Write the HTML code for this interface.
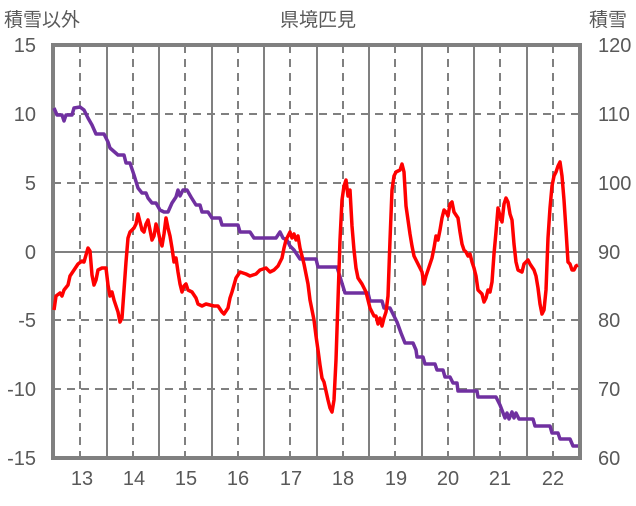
<!DOCTYPE html>
<html><head><meta charset="utf-8"><style>
body{margin:0;background:#fff}
svg text{font-family:"Liberation Sans","Noto Sans CJK JP",sans-serif;fill:#595959}
</style></head><body>
<svg width="636" height="501" viewBox="0 0 636 501" xmlns="http://www.w3.org/2000/svg">
<rect width="636" height="501" fill="#fff"/>
<g stroke="#808080" stroke-width="2" fill="none">
<g stroke-dasharray="8,6">
<line x1="80" y1="45" x2="80" y2="458"/><line x1="133" y1="45" x2="133" y2="458"/><line x1="185" y1="45" x2="185" y2="458"/><line x1="238" y1="45" x2="238" y2="458"/><line x1="290" y1="45" x2="290" y2="458"/><line x1="343" y1="45" x2="343" y2="458"/><line x1="395" y1="45" x2="395" y2="458"/><line x1="448" y1="45" x2="448" y2="458"/><line x1="500" y1="45" x2="500" y2="458"/><line x1="553" y1="45" x2="553" y2="458"/>
<line x1="53" y1="114" x2="580" y2="114"/><line x1="53" y1="183" x2="580" y2="183"/><line x1="53" y1="320" x2="580" y2="320"/><line x1="53" y1="389" x2="580" y2="389"/>
</g>
<line x1="107" y1="45" x2="107" y2="458"/><line x1="159" y1="45" x2="159" y2="458"/><line x1="212" y1="45" x2="212" y2="458"/><line x1="264" y1="45" x2="264" y2="458"/><line x1="317" y1="45" x2="317" y2="458"/><line x1="369" y1="45" x2="369" y2="458"/><line x1="422" y1="45" x2="422" y2="458"/><line x1="474" y1="45" x2="474" y2="458"/><line x1="527" y1="45" x2="527" y2="458"/>
<line x1="53" y1="252" x2="580" y2="252"/>
<rect x="53" y="45" width="527" height="413" stroke-width="4"/>
</g>
<polyline fill="none" stroke="#7030a0" stroke-width="3.5" stroke-linejoin="round" points="54,108 57,115 62,115 64,121 66,115 72,115 74,108 80,107 84,110 88,118 92,125 96,134 104,134 108,142 110,148 118,155 124,155 126,163 130,163 134,175 138,188 142,193 146,193 148,198 152,203 156,203 160,210 164,212 168,212 172,203 176,197 178,190 180,196 183,190 187,190 191,197 196,205 200,205 202,212 208,212 212,218 220,218 222,225 238,225 240,232 250,232 254,238 276,238 280,232 283,238 287,240 290,246 294,250 300,259 316,259 318,267 337,267 341,280 345,293 368,293 370,301 382,301 384,308 390,308 397,322 401,333 405,343 413,343 416,350 417,357 423,357 425,364 435,364 437,370 443,370 445,377 450,377 453,383 457,383 458,391 477,391 478,397 496,397 500,405 505,418 507,413 509,419 512,412 514,418 516,413 519,419 533,419 535,426 550,426 552,433 558,433 560,439 570,439 573,446 578,446"/>
<polyline fill="none" stroke="#ff0000" stroke-width="3.5" stroke-linejoin="round" points="54,310 56,296 60,293 62,296 64,290 68,285 70,276 74,270 78,264 82,261 84,262 86,255 88,248 90,251 92,275 94,285 96,280 98,270 102,268 106,268 108,285 110,296 112,292 114,300 118,312 120,322 122,318 124,290 126,262 128,238 130,232 134,228 136,224 138,214 140,222 142,230 144,232 146,224 148,220 150,230 152,240 154,236 156,224 158,230 160,240 162,246 164,234 166,218 168,228 170,236 172,248 174,262 176,258 178,272 180,284 182,292 184,286 186,284 188,290 192,292 196,298 198,304 202,306 206,304 210,305 214,306 218,306 222,312 224,314 228,308 230,298 232,292 234,285 236,278 240,272 246,274 250,276 256,274 260,270 266,268 270,272 274,270 278,266 282,258 284,248 286,240 288,236 290,232 292,238 294,234 296,240 298,236 300,248 304,264 308,284 310,300 314,320 316,336 318,350 320,365 322,378 324,382 328,400 330,408 332,412 334,400 336,360 338,300 340,240 342,200 344,186 346,180 348,196 350,190 352,226 354,250 356,268 358,278 362,284 366,292 370,308 374,316 376,316 378,324 380,318 382,326 384,318 386,312 388,296 390,240 392,190 394,176 396,172 400,170 402,164 404,172 406,206 408,220 410,234 412,246 414,256 418,264 422,272 424,284 426,276 428,270 430,264 432,258 434,248 436,236 438,240 440,230 442,218 444,210 446,212 448,216 450,204 452,202 454,212 458,218 460,232 462,244 464,250 466,252 468,256 470,254 472,262 474,268 476,276 478,290 480,292 482,294 484,302 486,298 488,290 490,292 492,282 494,254 496,232 498,208 500,216 502,222 504,204 506,198 508,202 510,214 512,220 514,244 516,262 518,270 522,272 524,264 526,262 528,260 530,264 534,270 536,276 538,288 540,304 542,314 544,310 546,290 548,238 550,208 552,186 554,176 556,172 558,166 560,162 562,176 564,200 566,230 568,262 570,264 572,270 574,270 576,266 578,265"/>
<g font-size="19">
<text x="4" y="26">積雪以外</text>
<text x="318" y="26" text-anchor="middle">県境匹見</text>
<text x="589" y="26">積雪</text>
</g>
<g font-size="20" text-anchor="end">
<text x="36" y="52">15</text><text x="36" y="121">10</text><text x="36" y="190">5</text><text x="36" y="259">0</text><text x="36" y="327">-5</text><text x="36" y="396">-10</text><text x="36" y="465">-15</text>
</g>
<g font-size="20">
<text x="598" y="52">120</text><text x="598" y="121">110</text><text x="598" y="190">100</text><text x="598" y="259">90</text><text x="598" y="327">80</text><text x="598" y="396">70</text><text x="598" y="465">60</text>
</g>
<g font-size="20" text-anchor="middle">
<text x="82" y="485">13</text><text x="134" y="485">14</text><text x="186" y="485">15</text><text x="238" y="485">16</text><text x="291" y="485">17</text><text x="343" y="485">18</text><text x="396" y="485">19</text><text x="448" y="485">20</text><text x="500" y="485">21</text><text x="553" y="485">22</text>
</g>
</svg>
</body></html>
